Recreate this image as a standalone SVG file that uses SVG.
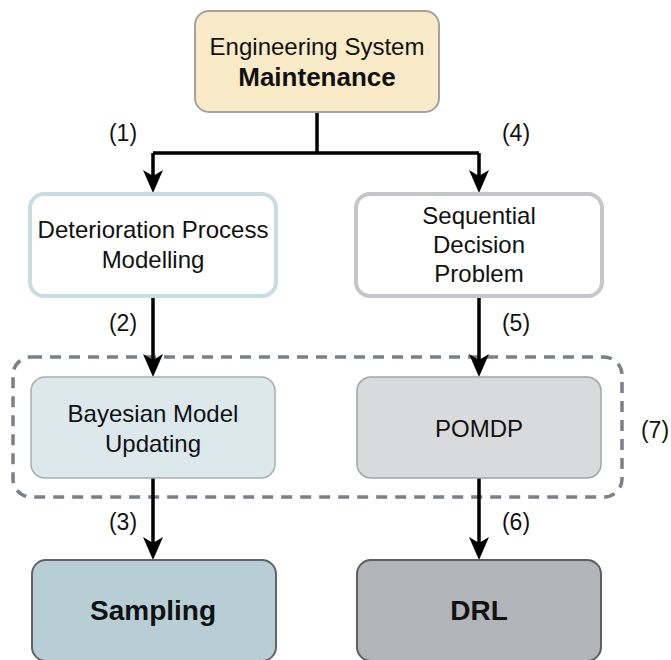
<svg xmlns="http://www.w3.org/2000/svg" width="671" height="660" viewBox="0 0 671 660">
<defs>
<style>
text{font-family:"Liberation Sans",Arial,sans-serif;fill:#111;text-anchor:middle}
.t{font-size:24px}
.b{font-size:26px;font-weight:bold}
.bb{font-size:28px;font-weight:bold}
.lab{font-size:23px}
.line{stroke:#000;stroke-width:3.5;fill:none}
.head{fill:#000}
</style>
</defs>
<g id="group7">
<rect x="13" y="357" width="609" height="140" rx="18" fill="none" stroke="#7b8088" stroke-width="3.5" stroke-dasharray="11 8"/>
</g>
<g id="connectors">
<path class="line" d="M317 112 V153 M153 153 H479 M153 153 V176 M479 153 V176"/>
<path class="head" d="M143 170 L153 193 L163 170 L153 176 Z"/>
<path class="head" d="M469 170 L479 193 L489 170 L479 176 Z"/>
<path class="line" d="M153 297 V360 M479 297 V360"/>
<path class="head" d="M143 354 L153 377 L163 354 L153 360 Z"/>
<path class="head" d="M469 354 L479 377 L489 354 L479 360 Z"/>
<path class="line" d="M153 478 V543 M479 478 V543"/>
<path class="head" d="M143 537 L153 560 L163 537 L153 543 Z"/>
<path class="head" d="M469 537 L479 560 L489 537 L479 543 Z"/>
<text class="lab" x="123" y="141">(1)</text>
<text class="lab" x="516" y="141">(4)</text>
<text class="lab" x="123" y="331">(2)</text>
<text class="lab" x="516" y="331">(5)</text>
<text class="lab" x="123" y="530">(3)</text>
<text class="lab" x="516" y="530">(6)</text>
<text class="lab" x="655" y="438">(7)</text>
</g>
<g id="maintenance">
<rect x="195" y="11" width="244" height="101" rx="14" fill="#faebc8" stroke="#a2a2a2" stroke-width="2"/>
<text class="t" x="317" y="55">Engineering System</text>
<text class="b" x="317" y="86">Maintenance</text>
</g>
<g id="deterioration">
<rect x="30" y="194" width="246" height="102" rx="14" fill="#fff" stroke="#c8dce3" stroke-width="4"/>
<text class="t" x="153" y="238">Deterioration Process</text>
<text class="t" x="153" y="268">Modelling</text>
</g>
<g id="sequential">
<rect x="356" y="194" width="246" height="102" rx="14" fill="#fff" stroke="#c4c6ca" stroke-width="4"/>
<text class="t" x="479" y="224">Sequential</text>
<text class="t" x="479" y="253">Decision</text>
<text class="t" x="479" y="282">Problem</text>
</g>
<g id="bayesian">
<rect x="31" y="377" width="244" height="101" rx="14" fill="#dde8ec" stroke="#a8adb0" stroke-width="1.5"/>
<text class="t" x="153" y="422">Bayesian Model</text>
<text class="t" x="153" y="452">Updating</text>
</g>
<g id="pomdp">
<rect x="357" y="377" width="244" height="101" rx="14" fill="#d9dadc" stroke="#a2a4a6" stroke-width="1.5"/>
<text class="t" x="479" y="437">POMDP</text>
</g>
<g id="sampling">
<rect x="32" y="560" width="244" height="101" rx="14" fill="#b8ced6" stroke="#5f6568" stroke-width="2"/>
<text class="bb" x="153" y="620">Sampling</text>
</g>
<g id="drl">
<rect x="357" y="560" width="244" height="101" rx="14" fill="#b1b4b9" stroke="#5c5e62" stroke-width="2"/>
<text class="bb" x="479" y="620">DRL</text>
</g>
</svg>
